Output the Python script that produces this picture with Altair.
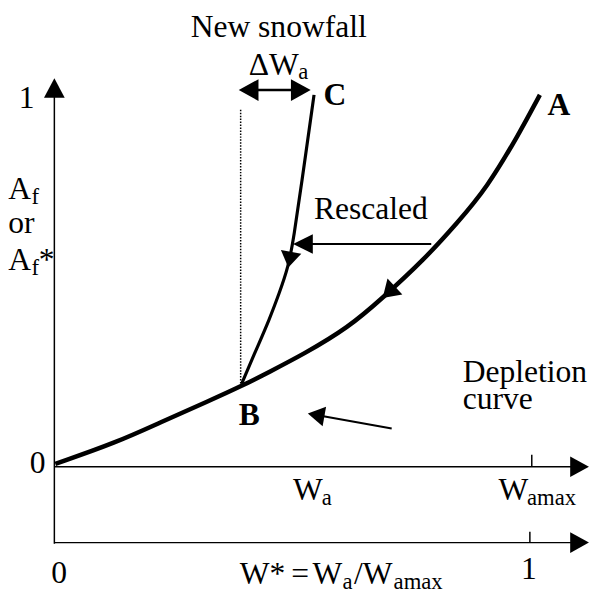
import math
import altair as alt
import pandas as pd

# ---------------- data (W* on x, Af on y) ----------------
# Depletion curve, from origin up to point A
dep_x = [0.002, 0.128, 0.232, 0.321, 0.398, 0.451, 0.522, 0.617, 0.689, 0.776, 0.845, 0.907, 0.977, 1.019]
dep_y = [0.008, 0.064, 0.125, 0.175, 0.220, 0.255, 0.302, 0.374, 0.454, 0.557, 0.655, 0.748, 0.899, 1.000]

# Rescaled curve, from B up to C
res_x = [0.393, 0.424, 0.451, 0.472, 0.491, 0.503, 0.518, 0.545]
res_y = [0.223, 0.316, 0.395, 0.467, 0.536, 0.621, 0.753, 1.000]

# Straight segments: axes, ticks, arrow shafts
seg_x1 = [0.0, 0.0, 0.0, 1.002, 0.998, 0.395, 0.791, 0.708]
seg_y1 = [-0.207, 0.0, -0.204, 0.0, -0.204, 1.013, 0.599, 0.103]
seg_x2 = [0.0, 1.09, 1.09, 1.002, 0.998, 0.530, 0.520, 0.550]
seg_y2 = [1.000, 0.0, -0.204, 0.032, -0.175, 1.013, 0.599, 0.139]
seg_w = [1.5, 1.5, 1.5, 1.5, 1.5, 2.5, 2.0, 2.0]

# Dotted guide at Wa
dot_x = [0.391, 0.391]
dot_y = [0.960, 0.223]

# Arrow heads: tip and a point behind it (direction)
head_tip_x = [0.0, 1.122, 1.122, 0.387, 0.538, 0.501, 0.532, 0.491, 0.689]
head_tip_y = [1.045, 0.0, -0.204, 1.013, 1.013, 0.599, 0.143, 0.536, 0.454]
head_tail_x = [0.0, 1.0, 1.0, 0.5, 0.45, 0.791, 0.708, 0.503, 0.762]
head_tail_y = [0.9, 0.0, -0.204, 1.013, 1.013, 0.599, 0.103, 0.621, 0.541]
head_len = [20, 19, 19, 20, 20, 20, 17, 16, 17]
head_wid = [21, 21, 21, 22, 22, 20, 20, 21, 22]

# Text labels
txt = ["New snowfall", "\u0394W", "A", "or", "A", "*", "Rescaled", "Depletion", "curve",
       "W", "W", "W*", "=", "W", "/W"]
txt_x = [0.286, 0.408, -0.097, -0.097, -0.097, -0.033, 0.545, 0.857, 0.857,
         0.501, 0.932, 0.389, 0.497, 0.542, 0.629]
txt_y = [1.156, 1.053, 0.719, 0.629, 0.528, 0.528, 0.666, 0.228, 0.156,
         -0.090, -0.090, -0.316, -0.316, -0.316, -0.316]

sub = ["a", "f", "f", "a", "amax", "a", "amax"]
sub_x = [0.512, -0.048, -0.048, 0.561, 0.992, 0.605, 0.712]
sub_y = [1.042, 0.706, 0.515, -0.103, -0.103, -0.329, -0.329]

num = ["1", "0", "0", "1"]
num_x = [-0.058, -0.035, 0.010, 0.996]
num_y = [0.966, -0.016, -0.313, -0.302]

pts = ["C", "A", "B"]
pts_x = [0.565, 1.035, 0.387]
pts_y = [0.973, 0.947, 0.111]

# ---------------- layout ----------------
W, H = 590, 592
XD = [-0.0973, 1.1242]
YD = [-0.3475, 1.2228]
kx = W / (XD[1] - XD[0])
ky = H / (YD[1] - YD[0])
xs = alt.Scale(domain=XD, nice=False, zero=False)
ys = alt.Scale(domain=YD, nice=False, zero=False)
FONT = "Times New Roman, Liberation Serif, serif"
FS = 32
FSUB = 23


def X(f="x"):
    return alt.X(f"{f}:Q", scale=xs, axis=None)


def Y(f="y"):
    return alt.Y(f"{f}:Q", scale=ys, axis=None)


dep_df = pd.DataFrame({"x": dep_x, "y": dep_y, "o": range(len(dep_x))})
res_df = pd.DataFrame({"x": res_x, "y": res_y, "o": range(len(res_x))})
seg_df = pd.DataFrame({"x": seg_x1, "y": seg_y1, "x2": seg_x2, "y2": seg_y2, "w": seg_w})
dot_df = pd.DataFrame({"x": [dot_x[0]], "y": [dot_y[0]], "x2": [dot_x[1]], "y2": [dot_y[1]]})

heads = []
for tx, ty, bx, by, L, Wd in zip(head_tip_x, head_tip_y, head_tail_x, head_tail_y, head_len, head_wid):
    dx = (tx - bx) * kx
    dy = -(ty - by) * ky
    ang = math.degrees(math.atan2(dx, -dy)) % 360
    r = Wd / (2.0 * L)
    heads.append({"x": tx, "y": ty, "angle": ang, "size": (2 * L) ** 2,
                  "shape": f"M0,0L{-r:.4f},1L{r:.4f},1Z"})
head_df = pd.DataFrame(heads)

txt_df = pd.DataFrame({"x": txt_x, "y": txt_y, "t": txt})
sub_df = pd.DataFrame({"x": sub_x, "y": sub_y, "t": sub})
num_df = pd.DataFrame({"x": num_x, "y": num_y, "t": num})
pts_df = pd.DataFrame({"x": pts_x, "y": pts_y, "t": pts})

dep = alt.Chart(dep_df).mark_line(interpolate="basis", color="black", strokeWidth=4.5).encode(
    x=X(), y=Y(), order="o:Q")
res = alt.Chart(res_df).mark_line(interpolate="basis", color="black", strokeWidth=3.2).encode(
    x=X(), y=Y(), order="o:Q")
segs = alt.Chart(seg_df).mark_rule(color="black").encode(
    x=X(), y=Y(), x2="x2:Q", y2="y2:Q", strokeWidth=alt.StrokeWidth("w:Q", scale=None))
dots = alt.Chart(dot_df).mark_rule(color="black", strokeWidth=1.5, strokeDash=[1.5, 1.5]).encode(
    x=X(), y=Y(), x2="x2:Q", y2="y2:Q")
hd = alt.Chart(head_df).mark_point(filled=True, color="black", opacity=1, strokeWidth=0).encode(
    x=X(), y=Y(),
    angle=alt.Angle("angle:Q", scale=None),
    size=alt.Size("size:Q", scale=None),
    shape=alt.Shape("shape:N", scale=None))
t1 = alt.Chart(txt_df).mark_text(font=FONT, fontSize=FS, align="left", baseline="alphabetic",
                                 color="black").encode(x=X(), y=Y(), text="t:N")
t2 = alt.Chart(sub_df).mark_text(font=FONT, fontSize=FSUB, align="left", baseline="alphabetic",
                                 color="black").encode(x=X(), y=Y(), text="t:N")
t3 = alt.Chart(num_df).mark_text(font=FONT, fontSize=FS, align="center", baseline="alphabetic",
                                 color="black").encode(x=X(), y=Y(), text="t:N")
t4 = alt.Chart(pts_df).mark_text(font=FONT, fontSize=FS, fontWeight="bold", align="left",
                                 baseline="alphabetic", color="black").encode(x=X(), y=Y(), text="t:N")

chart = alt.layer(dots, segs, res, dep, hd, t1, t2, t3, t4).properties(
    width=W, height=H, padding=0, background="white",
    autosize=alt.AutoSizeParams(type="none")
).configure_view(stroke=None)

chart.save("out.html", embed_options={"renderer": "svg", "actions": False})
